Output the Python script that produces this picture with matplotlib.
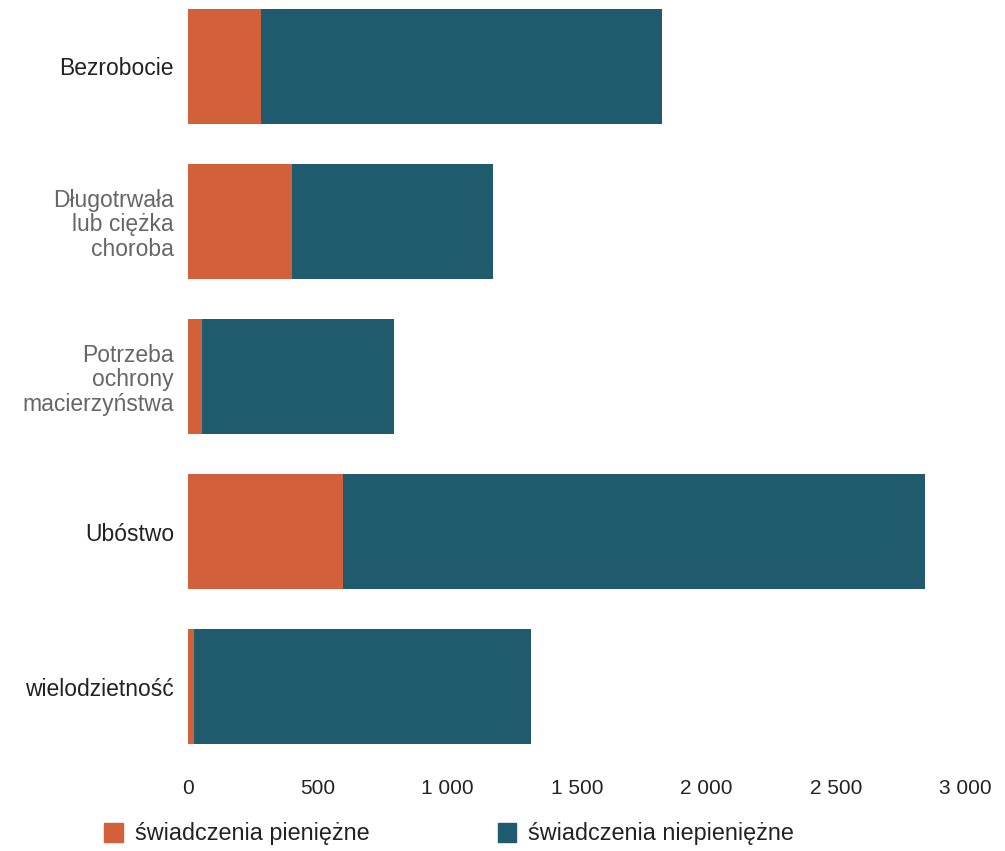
import matplotlib
matplotlib.use("Agg")
import matplotlib.pyplot as plt
from matplotlib.patches import Patch
from matplotlib.ticker import FuncFormatter

categories = ["Bezrobocie", "Długotrwała\nlub ciężka\nchoroba", "Potrzeba\nochrony\nmacierzyństwa",
              "Ubóstwo", "wielodzietność"]
cash = [280, 400, 55, 598, 25]
in_kind = [1550, 776, 740, 2244, 1298]
ticks = [0, 500, 1000, 1500, 2000, 2500, 3000]

orange = "#d2603b"
teal = "#1f5a6d"

plt.rcParams["font.family"] = ["Liberation Sans", "DejaVu Sans"]

fig = plt.figure(figsize=(10.05, 8.51), dpi=100)
ax = fig.add_axes([0.187, 0.12, 0.774, 0.875])

pos = list(range(len(categories)))
ax.barh(pos, cash, height=0.74, color=orange)
ax.barh(pos, in_kind, left=cash, height=0.74, color=teal)

ax.set_xlim(0, 3000)
ax.set_ylim(4.4, -0.4)
ax.set_xticks(ticks)
ax.xaxis.set_major_formatter(FuncFormatter(lambda v, p: f"{int(v):,}".replace(",", " ")))
ax.set_yticks(pos)
ax.set_yticklabels(categories, multialignment="right", linespacing=1.1)
ax.tick_params(axis="x", length=0, pad=22, labelsize=15, labelcolor="#222222")
ax.tick_params(axis="y", length=0, pad=10, labelsize=16.5)
for lab, c in zip(ax.get_yticklabels(), ["#222222", "#666666", "#666666", "#222222", "#222222"]):
    lab.set_color(c)
for s in ax.spines.values():
    s.set_visible(False)

handles = [Patch(color=orange), Patch(color=teal)]
fig.legend(handles, ["świadczenia pieniężne", "świadczenia niepieniężne"],
           loc="lower left", bbox_to_anchor=(0.083, -0.018), ncol=2, frameon=False,
           fontsize=16.8, handlelength=0.8, handleheight=0.9, handletextpad=0.5,
           columnspacing=5.5, labelcolor="#222222")

fig.savefig("out.png", dpi=100)
